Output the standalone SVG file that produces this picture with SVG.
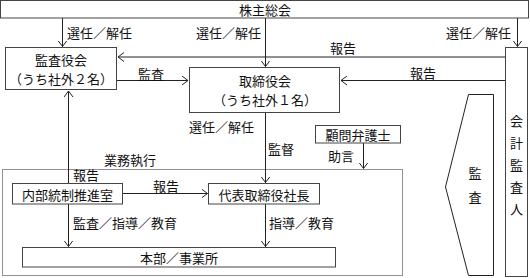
<svg xmlns="http://www.w3.org/2000/svg" width="530" height="278" viewBox="0 0 530 278">
<style>
.box{fill:#fff;stroke:#444;stroke-width:1}
.ln{fill:none;stroke:#222;stroke-width:1}
.t{font-family:"Noto Sans CJK JP","Noto Sans CJK SC",sans-serif;font-size:13px;fill:#111;dominant-baseline:central}
.c{text-anchor:middle}
.e{text-anchor:end}
</style>
<defs>
<marker id="ar" markerUnits="userSpaceOnUse" viewBox="0 0 6 10" refX="6" refY="5" markerWidth="6" markerHeight="10" orient="auto">
<path d="M0,0.5 L6,5 L0,9.5" fill="none" stroke="#222" stroke-width="1"/>
</marker>
</defs>
<rect width="530" height="278" fill="#fff"/>
<g id="dotted-area">
<rect x="2.5" y="169.5" width="400" height="106" fill="none" stroke="#222" stroke-width="1" stroke-dasharray="1,1"/>
<text class="t" x="104" y="159">業務執行</text>
</g>
<g id="connectors">
<line class="ln" x1="62.5" y1="18" x2="62.5" y2="46.5" marker-end="url(#ar)"/>
<line class="ln" x1="265.5" y1="18" x2="265.5" y2="66.5" marker-end="url(#ar)"/>
<line class="ln" x1="517.5" y1="18" x2="517.5" y2="46.5" marker-end="url(#ar)"/>
<line class="ln" x1="505" y1="57" x2="118" y2="57" stroke-width="1.8" marker-end="url(#ar)"/>
<line class="ln" x1="505" y1="80.5" x2="341" y2="80.5" marker-end="url(#ar)"/>
<line class="ln" x1="117" y1="80.5" x2="188" y2="80.5" marker-end="url(#ar)"/>
<line class="ln" x1="68.5" y1="183" x2="68.5" y2="91" marker-end="url(#ar)"/>
<line class="ln" x1="265.5" y1="113" x2="265.5" y2="182.5" marker-end="url(#ar)"/>
<line class="ln" x1="363.5" y1="143" x2="363.5" y2="168.5" marker-end="url(#ar)"/>
<line class="ln" x1="123" y1="193.5" x2="207.5" y2="193.5" marker-end="url(#ar)"/>
<line class="ln" x1="68.5" y1="204" x2="68.5" y2="246.5" marker-end="url(#ar)"/>
<line class="ln" x1="265.5" y1="204" x2="265.5" y2="246.5" marker-end="url(#ar)"/>
<text class="t" x="67" y="32">選任／解任</text>
<text class="t e" x="261" y="32">選任／解任</text>
<text class="t e" x="511" y="32">選任／解任</text>
<text class="t" x="330" y="47">報告</text>
<text class="t" x="410" y="72">報告</text>
<text class="t" x="138" y="73">監査</text>
<text class="t" x="189" y="126">選任／解任</text>
<text class="t" x="268" y="148">監督</text>
<text class="t" x="328" y="155">助言</text>
<text class="t" x="73" y="174.5">報告</text>
<text class="t" x="153" y="185">報告</text>
<text class="t" x="73" y="222">監査／指導／教育</text>
<text class="t" x="269" y="222">指導／教育</text>
</g>
<g id="shareholders">
<rect class="box" x="0.5" y="0.5" width="528" height="17.5"/>
<text class="t c" x="265" y="9.5">株主総会</text>
</g>
<g id="auditors-board">
<rect class="box" x="5.5" y="47.5" width="111" height="42"/>
<text class="t c" x="61" y="59.5">監査役会</text>
<text class="t c" x="61" y="78.5">（うち社外２名）</text>
</g>
<g id="board">
<rect class="box" x="189.5" y="67.5" width="150" height="45"/>
<text class="t c" x="265" y="80.5">取締役会</text>
<text class="t c" x="265" y="99.5">（うち社外１名）</text>
</g>
<g id="accounting-auditor">
<rect class="box" x="505.5" y="47.5" width="22" height="229"/>
<text class="t c" x="516.5" y="120">会</text>
<text class="t c" x="516.5" y="142">計</text>
<text class="t c" x="516.5" y="164">監</text>
<text class="t c" x="516.5" y="186">査</text>
<text class="t c" x="516.5" y="208">人</text>
</g>
<g id="audit-arrow">
<polygon points="468.5,94.5 493.5,94.5 493.5,275.5 468.5,275.5 445.5,187" fill="#fff" stroke="#222" stroke-width="1"/>
<text class="t c" x="475" y="172">監</text>
<text class="t c" x="475" y="196">査</text>
</g>
<g id="lawyer">
<rect class="box" x="315.5" y="125.5" width="85" height="17.5"/>
<text class="t c" x="358" y="134">顧問弁護士</text>
</g>
<g id="internal-control">
<rect class="box" x="12.5" y="183.5" width="110" height="20.5"/>
<text class="t c" x="67.5" y="194">内部統制推進室</text>
</g>
<g id="president">
<rect class="box" x="208.5" y="183.5" width="111" height="20.5"/>
<text class="t c" x="264" y="194">代表取締役社長</text>
</g>
<g id="offices">
<rect class="box" x="22.5" y="247.5" width="313" height="19.5"/>
<text class="t c" x="179" y="257">本部／事業所</text>
</g>
</svg>
